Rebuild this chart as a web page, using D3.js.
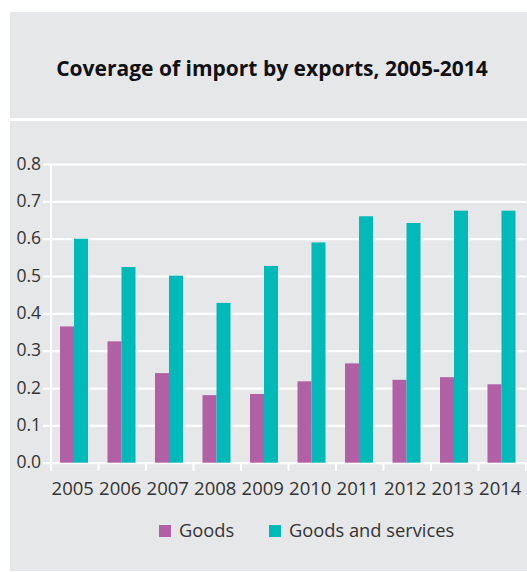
<!DOCTYPE html>
<html>
<head>
<meta charset="utf-8">
<script src="https://cdn.jsdelivr.net/npm/d3@7"></script>
<style>
  html, body { margin: 0; padding: 0; background: #ffffff; }
  svg { display: block; }
  text { font-family: "Open Sans", "Noto Sans", sans-serif; }
</style>
</head>
<body>
<svg id="chart" width="527" height="572"></svg>
<script>
// Coverage of imports by exports (ratio), 2005-2014
const years = ["2005", "2006", "2007", "2008", "2009", "2010", "2011", "2012", "2013", "2014"];
const goods = [0.365, 0.325, 0.24, 0.181, 0.184, 0.218, 0.266, 0.222, 0.229, 0.21];
const goodsAndServices = [0.6, 0.524, 0.501, 0.428, 0.527, 0.59, 0.66, 0.642, 0.675, 0.675];
const yTicks = [0, 0.1, 0.2, 0.3, 0.4, 0.5, 0.6, 0.7, 0.8];
const seriesNames = ["Goods", "Goods and services"];
const seriesColors = ["#b160a6", "#00b9b9"];

const svg = d3.select("#chart");
const panelFill = "#e6e7e9";
const labelColor = "#333333";

// title panel and chart panel
svg.append("rect").attr("x", 10).attr("y", 12).attr("width", 517).attr("height", 106).attr("fill", panelFill);
svg.append("rect").attr("x", 10).attr("y", 121).attr("width", 517).attr("height", 450).attr("fill", panelFill);

svg.append("text")
  .attr("x", 272).attr("y", 75.5)
  .attr("text-anchor", "middle")
  .attr("font-size", 21).attr("font-weight", "bold")
  .attr("fill", "#111")
  .text("Coverage of import by exports, 2005-2014");

const plotLeft = 51, plotRight = 526, plotTop = 164, plotBottom = 462.7;

const x = d3.scaleBand().domain(years).range([plotLeft, plotRight]).paddingInner(0).paddingOuter(0);
const sub = d3.scaleBand().domain(seriesNames).range([9, x.bandwidth() - 10.5]);
const y = d3.scaleLinear().domain([0, 0.8]).range([plotBottom, plotTop]);

// horizontal gridlines with y labels
const yAxis = d3.axisLeft(y).tickValues(yTicks).tickFormat(d3.format(".1f")).tickSize(-(plotRight - plotLeft)).tickPadding(10);
const gy = svg.append("g").attr("transform", `translate(${plotLeft},0)`).call(yAxis);
gy.select(".domain").remove();
gy.selectAll(".tick line").attr("x1", -8).attr("stroke", "#ffffff").attr("stroke-width", 2.2);
gy.selectAll(".tick text").attr("font-size", 17.5).attr("fill", labelColor).attr("x", -10).attr("dy", "0.3em");

// vertical axis line
svg.append("line").attr("x1", plotLeft).attr("x2", plotLeft).attr("y1", plotTop).attr("y2", plotBottom + 8)
  .attr("stroke", "#ffffff").attr("stroke-width", 2);

// category boundary ticks
const boundaries = years.map(d => x(d)).concat([plotRight]);
svg.append("g").selectAll("line").data(boundaries).join("line")
  .attr("x1", d => d).attr("x2", d => d).attr("y1", plotBottom).attr("y2", plotBottom + 8)
  .attr("stroke", "#ffffff").attr("stroke-width", 2);

// bars
const rows = years.map((yr, i) => ({ year: yr, values: [goods[i], goodsAndServices[i]] }));
const groups = svg.append("g").selectAll("g").data(rows).join("g")
  .attr("transform", d => `translate(${x(d.year)},0)`);
groups.selectAll("rect").data(d => d.values.map((v, j) => ({ name: seriesNames[j], value: v, color: seriesColors[j] })))
  .join("rect")
  .attr("x", d => sub(d.name))
  .attr("width", sub.bandwidth())
  .attr("y", d => y(d.value))
  .attr("height", d => plotBottom - y(d.value))
  .attr("fill", d => d.color);

// x labels
svg.append("g").selectAll("text").data(years).join("text")
  .attr("x", d => x(d) + x.bandwidth() / 2 - 2)
  .attr("y", 495)
  .attr("text-anchor", "middle")
  .attr("font-size", 18.5).attr("fill", labelColor)
  .text(d => d);

// legend
const legendX = [159, 269];
const legend = svg.append("g").selectAll("g").data(seriesNames).join("g")
  .attr("transform", (d, i) => `translate(${legendX[i]},525)`);
legend.append("rect").attr("width", 12).attr("height", 12).attr("fill", (d, i) => seriesColors[i]);
legend.append("text").attr("x", 20).attr("y", 11.5).attr("font-size", 18.3).attr("fill", labelColor).text(d => d);
</script>
</body>
</html>
